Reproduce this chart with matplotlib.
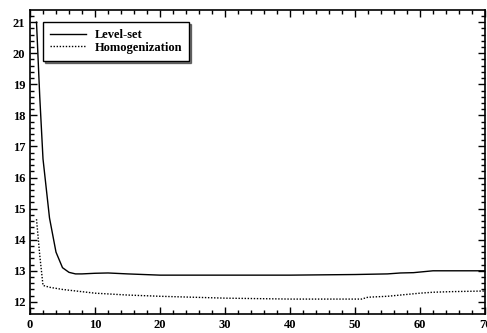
import matplotlib
matplotlib.use('Agg')
import matplotlib.pyplot as plt
from matplotlib.ticker import MultipleLocator

# iteration vs objective
ls_x = [1, 1.5, 2, 3, 4, 5, 6, 7, 8, 10, 12, 15, 20, 30, 40, 50, 55, 57, 59, 60, 62, 65, 70]
ls_y = [21.0, 18.6, 16.6, 14.7, 13.6, 13.1, 12.95, 12.9, 12.9, 12.92, 12.93, 12.9, 12.86,
        12.86, 12.86, 12.88, 12.9, 12.93, 12.94, 12.96, 13.0, 13.0, 13.0]
hom_x = [1, 1.5, 2, 3, 5, 10, 15, 20, 30, 40, 50, 51, 52, 55, 60, 62, 65, 70]
hom_y = [14.66, 13.5, 12.53, 12.47, 12.4, 12.28, 12.22, 12.18, 12.12, 12.09, 12.09, 12.09,
         12.15, 12.18, 12.28, 12.31, 12.33, 12.35]

plt.rcParams['font.family'] = ['Liberation Serif', 'DejaVu Serif']
plt.rcParams['font.weight'] = 'bold'

fig = plt.figure(figsize=(4.87, 3.33), dpi=100)
ax = fig.add_axes([30 / 487, 19 / 333, 455 / 487, 304 / 333])

ax.plot(ls_x, ls_y, color='black', lw=1.0, label='Level-set')
ax.plot(hom_x, hom_y, color='black', lw=1.0, ls=(0, (1, 1.2)), label='Homogenization')

ax.set_xlim(0, 70)
ax.set_ylim(11.61, 21.39)
ax.xaxis.set_major_locator(MultipleLocator(10))
ax.xaxis.set_minor_locator(MultipleLocator(2))
ax.yaxis.set_major_locator(MultipleLocator(1))
ax.yaxis.set_minor_locator(MultipleLocator(0.2))
ax.tick_params(which='both', direction='in', top=True, right=True, labelsize=9, width=1.0)
ax.tick_params(which='major', length=5)
ax.tick_params(which='minor', length=3)
for s in ax.spines.values():
    s.set_linewidth(1.2)
for lab in ax.get_xticklabels() + ax.get_yticklabels():
    lab.set_fontweight('bold')

leg = ax.legend(loc='upper left', bbox_to_anchor=(0.028, 0.96), borderaxespad=0,
                fancybox=False, shadow={'ox': 1.5, 'oy': -1.5, 'color': 'black'},
                framealpha=1, edgecolor='black', prop={'size': 9, 'weight': 'bold'},
                handlelength=2.9, handletextpad=0.7, borderpad=0.55, labelspacing=0.05)
leg.get_frame().set_linewidth(1.0)

fig.savefig('out.png', dpi=100)
